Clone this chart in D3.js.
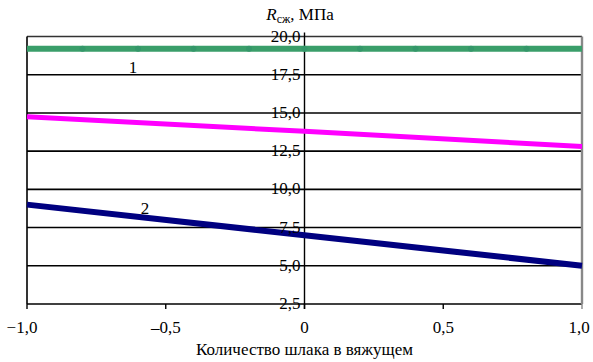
<!DOCTYPE html>
<html><head><meta charset="utf-8"><script src="https://cdn.jsdelivr.net/npm/d3@7"></script></head>
<body style="margin:0">
<div id="c"></div>
<script>
const xTicks = [-1, -0.5, 0, 0.5, 1]
const xTickLabels = ['\u22121,0', '\u20130,5', '0', '0,5', '1,0']
const yTicks = [2.5, 5, 7.5, 10, 12.5, 15, 17.5, 20]
const yTickLabels = ['2,5', '5,0', '7,5', '10,0', '12,5', '15,0', '17,5', '20,0']

// series 1 (green), drawn with point markers
const greenX = [-1, -0.8, -0.6, -0.4, -0.2, 0, 0.2, 0.4, 0.6, 0.8, 1]
const greenY = [19.2, 19.2, 19.2, 19.2, 19.2, 19.2, 19.2, 19.2, 19.2, 19.2, 19.2]
// magenta series
const magentaX = [-1, 0, 1]
const magentaY = [14.75, 13.8, 12.8]
// series 2 (navy)
const navyX = [-1, 0, 1]
const navyY = [9.0, 7.0, 5.0]

const svg = d3.select('#c').append('svg').attr('width', 593).attr('height', 362)

const x = d3.scaleLinear().domain([-1, 1]).range([27, 582])
const y = d3.scaleLinear().domain([2.5, 20]).range([304, 36.5])

// horizontal grid
svg.selectAll('line.grid')
  .data(yTicks)
  .enter()
  .append('line')
  .attr('class', 'grid')
  .attr('x1', x(-1))
  .attr('x2', x(1))
  .attr('y1', (d) => y(d))
  .attr('y2', (d) => y(d))
  .style('stroke', (d) => (d === 20 ? '#333' : '#000'))
  .style('stroke-width', 1.6)

// left and right frame
svg.append('line')
  .attr('x1', x(-1)).attr('x2', x(-1))
  .attr('y1', y(20)).attr('y2', y(2.5))
  .style('stroke', '#000').style('stroke-width', 1.6)
svg.append('line')
  .attr('x1', x(1)).attr('x2', x(1))
  .attr('y1', y(20)).attr('y2', y(2.5))
  .style('stroke', '#888').style('stroke-width', 2.4)

// x ticks
svg.selectAll('line.xtick')
  .data(xTicks)
  .enter()
  .append('line')
  .attr('class', 'xtick')
  .attr('x1', (d) => x(d))
  .attr('x2', (d) => x(d))
  .attr('y1', y(2.5))
  .attr('y2', y(2.5) + 5)
  .style('stroke', (d) => (d === 1 ? '#888' : '#000'))
  .style('stroke-width', 1.4)

// y axis at x = 0
svg.append('line')
  .attr('x1', x(0)).attr('x2', x(0))
  .attr('y1', y(20) - 4).attr('y2', y(2.5) + 5)
  .style('stroke', '#000').style('stroke-width', 1.4)

const line = d3.line()
  .x((d) => x(d[0]))
  .y((d) => y(d[1]))

const lines = [
  { xs: greenX, ys: greenY, color: '#3a9e6a', w: 6 },
  { xs: magentaX, ys: magentaY, color: '#ff00ff', w: 5 },
  { xs: navyX, ys: navyY, color: '#000080', w: 6 }
]

lines.forEach((s) => {
  svg.append('path')
    .datum(d3.zip(s.xs, s.ys))
    .attr('d', line)
    .style('fill', 'none')
    .style('stroke', s.color)
    .style('stroke-width', s.w)
})

svg.selectAll('circle.gmark')
  .data(d3.zip(greenX, greenY).slice(1, -1))
  .enter()
  .append('circle')
  .attr('class', 'gmark')
  .attr('cx', (d) => x(d[0]))
  .attr('cy', (d) => y(d[1]))
  .attr('r', 3)
  .style('fill', '#34976a')

function addText (xx, yy, txt, anchor) {
  return svg.append('text')
    .attr('x', xx)
    .attr('y', yy)
    .style('font-family', 'serif')
    .style('font-size', '17px')
    .style('text-anchor', anchor || 'middle')
    .text(txt)
}

// y tick labels
yTicks.forEach((d, i) => {
  addText(x(0) - 4, y(d) + 5, yTickLabels[i], 'end')
})

// x tick labels
xTicks.forEach((d, i) => {
  const shift = i === 0 ? -5 : i === xTicks.length - 1 ? -3 : 0
  addText(x(d) + shift, 333, xTickLabels[i])
})

// series labels
addText(133, 73, '1')
addText(145, 214, '2')

// axis titles
addText(x(0), 355, 'Количество шлака в вяжущем')

const yTitle = addText(300, 20, null)
yTitle.append('tspan').style('font-style', 'italic').text('R')
yTitle.append('tspan').attr('dy', 3).style('font-size', '12px').text('сж')
yTitle.append('tspan').attr('dy', -3).text(', МПа')
</script>
</body>
</html>
